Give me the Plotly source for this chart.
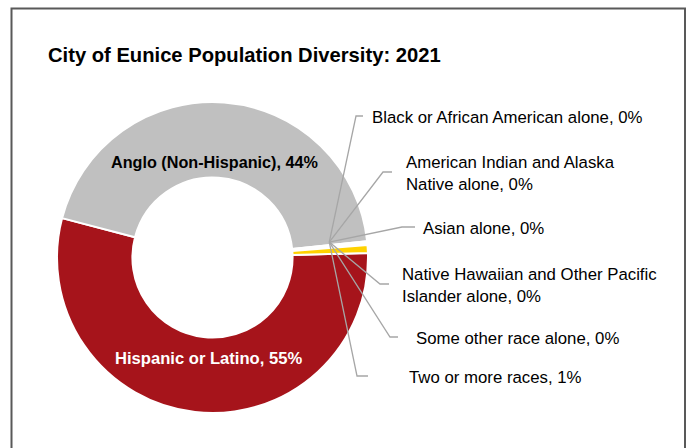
import math
import plotly.graph_objects as go

# ---------------- data ----------------
categories = [
    "Hispanic or Latino",
    "Anglo (Non-Hispanic)",
    "Black or African American alone",
    "American Indian and Alaska Native alone",
    "Asian alone",
    "Native Hawaiian and Other Pacific Islander alone",
    "Some other race alone",
    "Two or more races",
]
shares = [54.6, 44.3, 0.1, 0.1, 0.05, 0.05, 0.1, 0.8]
label_text = [
    "Hispanic or Latino",
    "Anglo (Non-Hispanic)",
    "Black or African American alone",
    "American Indian and Alaska<br>Native alone",
    "Asian alone",
    "Native Hawaiian and Other Pacific<br>Islander alone",
    "Some other race alone",
    "Two or more races",
]
title_text = "City of Eunice Population Diversity: 2021"

# ---------------- styling / layout ----------------
W, H = 688, 448
colors = ["#A6141B", "#C0C0C0", "#7F7F7F", "#D9D9D9", "#595959", "#BFBFBF", "#262626", "#FFD200"]
FONT = "Liberation Sans, Arial, sans-serif"
CX, CY, R = 212.5, 257.5, 155.5   # pie centre / radius in pixels
HOLE = 0.515
ROT = 88.3                         # start angle of first slice (deg, clockwise from 12 o'clock)

def px(x):
    return x / W

def py(y):
    return 1 - y / H

total = sum(shares)
pcts = [int(v / total * 100 + 0.5) for v in shares]

fig = go.Figure(go.Pie(
    labels=categories,
    values=shares,
    sort=False,
    direction="clockwise",
    rotation=ROT,
    hole=HOLE,
    marker=dict(colors=colors, line=dict(color="white", width=2)),
    textinfo="none",
    hoverinfo="label+percent",
    showlegend=False,
    domain=dict(x=[px(CX - R), px(CX + R)], y=[py(CY + R), py(CY - R)]),
))

annotations = []
shapes = []

# inside labels for the two large slices
annotations.append(dict(x=px(214), y=py(162), xref="paper", yref="paper",
                        xanchor="center", yanchor="middle",
                        text=f"<b>{label_text[1]}, {pcts[1]}%</b>", showarrow=False,
                        font=dict(family=FONT, size=16.2, color="black")))
annotations.append(dict(x=px(208), y=py(358), xref="paper", yref="paper",
                        xanchor="center", yanchor="middle",
                        text=f"<b>{label_text[0]}, {pcts[0]}%</b>", showarrow=False,
                        font=dict(family=FONT, size=16.6, color="white")))

# anchor for leader lines: just inside end of the Anglo slice, mid ring
cum = sum(shares[:2])
theta = math.radians(ROT + cum / total * 360 - 1.5)
rmid = R * (1 + HOLE) / 2
ax, ay = CX + rmid * math.sin(theta), CY - rmid * math.cos(theta)

# outside label placements (elbow x, stub end x, y, text left x)
placements = [
    (356, 363, 116, 370),
    (383, 392, 172, 404),
    (402, 415, 227, 421),
    (380, 389, 284, 400),
    (390, 398, 337, 414),
    (357, 368, 376, 407),
]
for i, (ex, sx, ey, tx) in enumerate(placements):
    idx = i + 2
    shapes.append(dict(type="path", xref="paper", yref="paper",
                       path=f"M {px(ax)} {py(ay)} L {px(ex)} {py(ey)} L {px(sx)} {py(ey)}",
                       line=dict(color="#A6A6A6", width=1.3)))
    annotations.append(dict(x=px(tx), y=py(ey + 1.5), xref="paper", yref="paper",
                            xanchor="left", yanchor="middle", align="left",
                            text=f"{label_text[idx]}, {pcts[idx]}%", showarrow=False,
                            font=dict(family=FONT, size=16.8, color="black")))

# title
annotations.append(dict(x=px(46), y=py(55), xref="paper", yref="paper",
                        xanchor="left", yanchor="middle",
                        text=f"<b>{title_text}</b>", showarrow=False,
                        font=dict(family=FONT, size=20.2, color="black")))

# chart border
shapes.append(dict(type="rect", xref="paper", yref="paper",
                   x0=px(11.5), x1=px(685), y0=py(470), y1=py(8.5),
                   line=dict(color="#595959", width=2), fillcolor="rgba(0,0,0,0)", layer="above"))

fig.update_layout(
    width=W, height=H,
    margin=dict(l=0, r=0, t=0, b=0),
    paper_bgcolor="white",
    plot_bgcolor="white",
    annotations=annotations,
    shapes=shapes,
)

fig.write_html("out.html")
